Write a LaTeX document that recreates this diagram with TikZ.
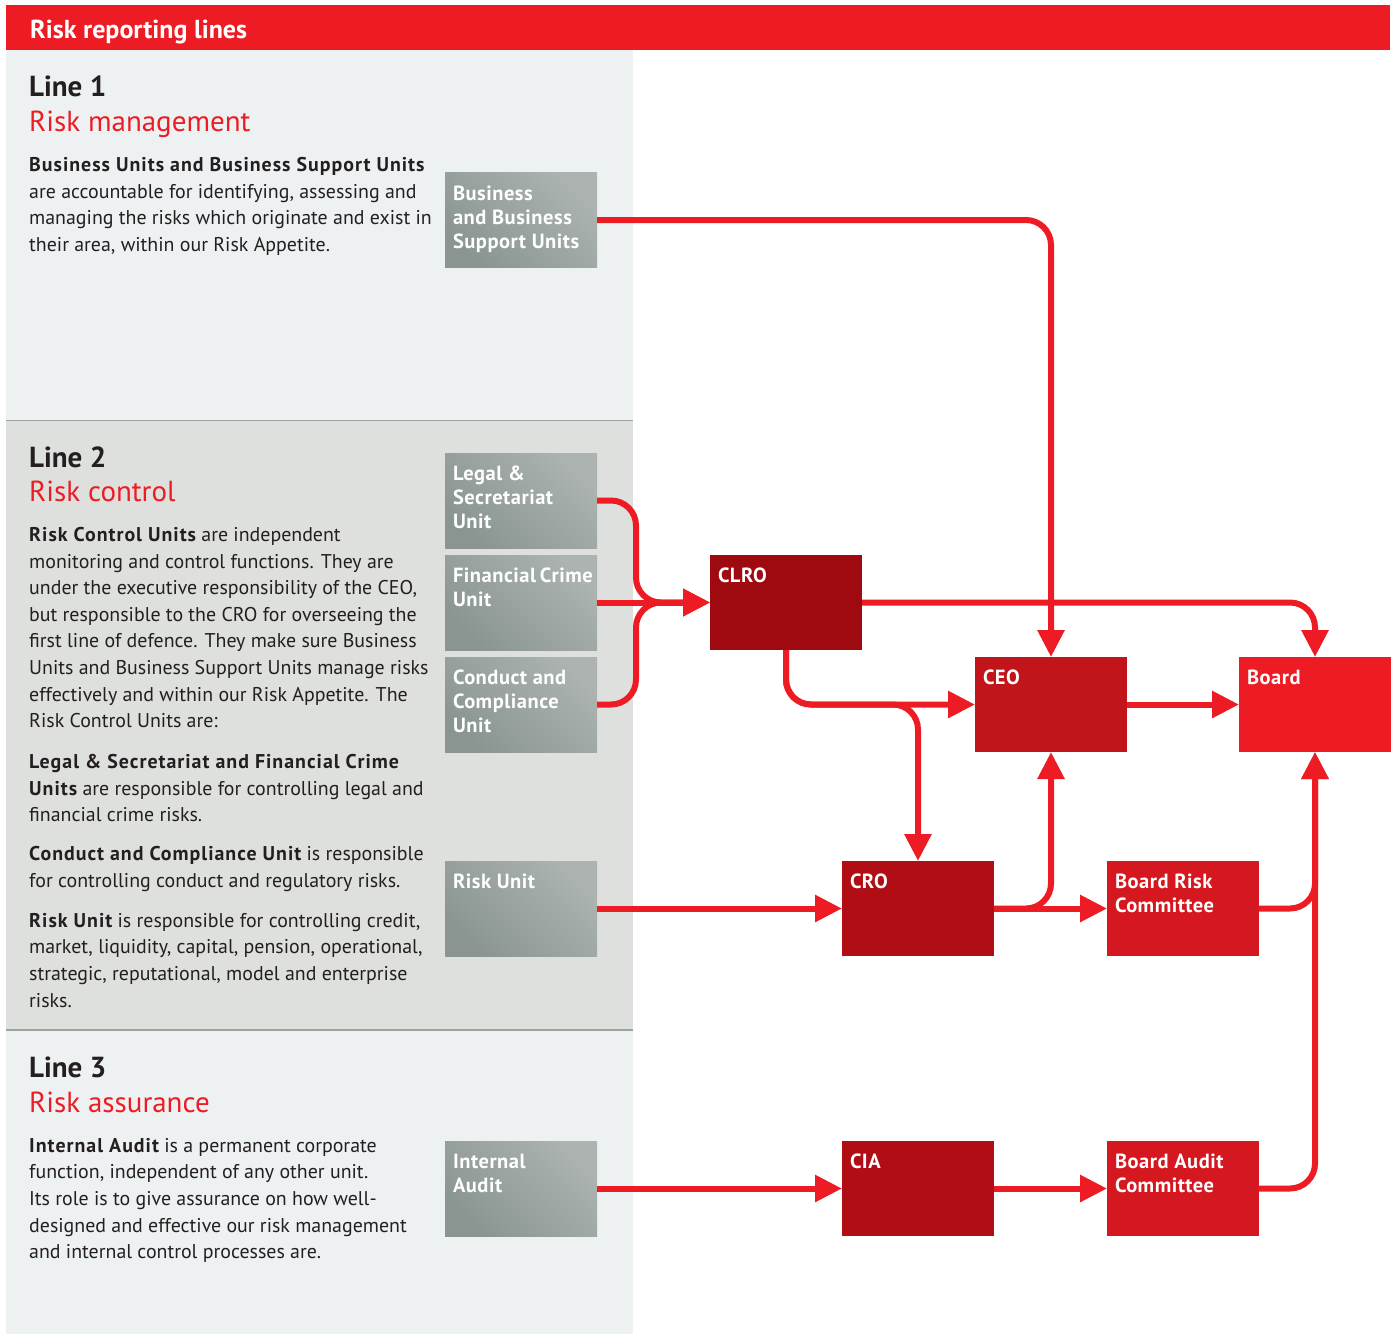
\documentclass[tikz,border=0pt]{standalone}
\usepackage{fontspec}
\setmainfont{PT Sans}
\newfontfamily\widebold{PT Sans}[LetterSpace=5]
\newfontfamily\boxbold{PT Sans}[LetterSpace=2.5]
\usetikzlibrary{positioning, arrows.meta}

\definecolor{rptred}{HTML}{ED1C24}
\definecolor{panellight}{HTML}{EEF1F2}
\definecolor{panelmid}{HTML}{DEE0DD}
\definecolor{rulegray}{HTML}{9AA4A1}
\definecolor{unitdark}{HTML}{8A9592}
\definecolor{unitlight}{HTML}{ACB3B0}
\definecolor{clrored}{HTML}{9E0A10}
\definecolor{crored}{HTML}{B00D14}
\definecolor{ceored}{HTML}{C1141B}
\definecolor{cmtred}{HTML}{D5171F}
\definecolor{bodytext}{HTML}{231F20}

\newcommand{\boxtext}[1]{\parbox[t][69pt][t]{136pt}{#1}}
\newcommand{\lead}[1]{{\widebold\bfseries #1}}

\begin{document}
\begin{tikzpicture}[x=1pt, y=-1pt,
    unit/.style={inner xsep=8pt, inner ysep=13pt, outer sep=0pt,
      top color=unitlight, bottom color=unitdark, shading angle=-45,
      text=white, font=\fontsize{20.5}{24}\selectfont\boxbold\bfseries},
    officer/.style={inner xsep=8pt, inner ysep=13pt, outer sep=0pt,
      text=white, font=\fontsize{20.5}{24}\selectfont\boxbold\bfseries},
    flow/.style={draw=rptred, line width=6pt, rounded corners=25pt,
      -{Triangle[length=27pt, width=26pt]}},
    linehead/.style={anchor=base west, inner sep=0pt, text=bodytext,
      font=\fontsize{29}{34}\selectfont\bfseries},
    linesub/.style={anchor=base west, inner sep=0pt, text=rptred,
      font=\fontsize{29}{34}\selectfont},
    body/.style={anchor=north west, inner sep=0pt, align=left, text=bodytext,
      font=\fontsize{19.9}{26.6}\selectfont}
  ]
    \useasboundingbox (0,0) rectangle (1395,1334);
    \fill[white] (0,0) rectangle (1395,1334);

    % panels
    \fill[rptred] (6,5) rectangle (1390,50);
    \fill[panellight] (6,50) rectangle (633,420);
    \fill[panelmid] (6,420) rectangle (633,1030);
    \fill[panellight] (6,1030) rectangle (633,1334);
    \draw[rulegray, line width=1pt] (6,420.5) -- (633,420.5);
    \draw[rulegray, line width=2pt] (6,1030) -- (633,1030);

    \node[anchor=base west, inner sep=0pt, text=white,
      font=\fontsize{26}{30}\selectfont\bfseries] (title) at (30,38) {Risk reporting lines};

    % line 1
    \node[linehead] (l1head) at (29,96) {Line 1};
    \node[linesub] (l1sub) at (29,131) {Risk management};
    \node[body] (l1text) at (29,157) {\lead{Business Units and Business Support Units}\\
      are accountable for identifying, assessing and\\
      managing the risks which originate and exist in\\
      their area, within our Risk Appetite.};

    % line 2
    \node[linehead] (l2head) at (29,467) {Line 2};
    \node[linesub] (l2sub) at (29,501) {Risk control};
    \node[body] (l2text) at (29,527) {\lead{Risk Control Units} are independent\\
      monitoring and control functions. They are\\
      under the executive responsibility of the CEO,\\
      but responsible to the CRO for overseeing the\\
      first line of defence. They make sure Business\\
      Units and Business Support Units manage risks\\
      effectively and within our Risk Appetite. The\\
      Risk Control Units are:};
    \node[body] (l2legal) at (29,754) {\lead{Legal \& Secretariat and Financial Crime}\\
      \lead{Units} are responsible for controlling legal and\\
      financial crime risks.};
    \node[body] (l2cond) at (29,846) {\lead{Conduct and Compliance Unit} is responsible\\
      for controlling conduct and regulatory risks.};
    \node[body] (l2risk) at (29,913) {\lead{Risk Unit} is responsible for controlling credit,\\
      market, liquidity, capital, pension, operational,\\
      strategic, reputational, model and enterprise\\
      risks.};

    % line 3
    \node[linehead] (l3head) at (29,1077) {Line 3};
    \node[linesub] (l3sub) at (29,1112) {Risk assurance};
    \node[body] (l3text) at (29,1138) {\lead{Internal Audit} is a permanent corporate\\
      function, independent of any other unit.\\
      Its role is to give assurance on how well-\\
      designed and effective our risk management\\
      and internal control processes are.};

    % units
    \node[unit] (bus) at (521,220) {\boxtext{Business\\and Business\\Support~Units}};
    \node[unit] (legal) at (521,500.5) {\boxtext{Legal \&\\Secretariat\\Unit}};
    \node[unit, below=7pt of legal] (fin) {\boxtext{Financial~Crime\\Unit}};
    \node[unit, below=7pt of fin] (cond) {\boxtext{Conduct~and\\Compliance\\Unit}};
    \node[unit] (riskunit) at (521,908.5) {\boxtext{Risk Unit}};
    \node[unit] (audit) at (521,1188.5) {\boxtext{Internal\\Audit}};

    % officers and board
    \node[officer, fill=clrored] (clro) at (786,602.5) {\boxtext{CLRO}};
    \node[officer, fill=ceored] (ceo) at (1051,704.5) {\boxtext{CEO}};
    \node[officer, fill=rptred, right=112pt of ceo] (board) {\boxtext{Board}};
    \node[officer, fill=crored] (cro) at (918,908.5) {\boxtext{CRO}};
    \node[officer, fill=cmtred, right=113pt of cro] (brc) {\boxtext{Board Risk\\Committee}};
    \node[officer, fill=crored] (cia) at (918,1188.5) {\boxtext{CIA}};
    \node[officer, fill=cmtred, right=113pt of cia] (bac) {\boxtext{Board~Audit\\Committee}};

    \coordinate (merge) at (636,602.5);

    % reporting lines
    \draw[flow] (bus.east) -| (ceo.north);
    \draw[flow] (legal.east) -| (merge) -- (clro.west);
    \draw[flow] (cond.east) -| (merge) -- (clro.west);
    \draw[flow] (fin.east) -- (clro.west);
    \draw[flow] (clro.east) -| (board.north);
    \draw[flow] (clro.south) |- (ceo.west);
    \draw[flow] (clro.south) |- (cro.north |- ceo.west) -- (cro.north);
    \draw[flow] (ceo.east) -- (board.west);
    \draw[flow] (riskunit.east) -- (cro.west);
    \draw[flow] (cro.east) -- (brc.west);
    \draw[flow] (cro.east) -| (ceo.south);
    \draw[flow] (brc.east) -| (board.south);
    \draw[flow] (audit.east) -- (cia.west);
    \draw[flow] (cia.east) -- (bac.west);
    \draw[flow] (bac.east) -| (board.south);
  \end{tikzpicture}
\end{document}
